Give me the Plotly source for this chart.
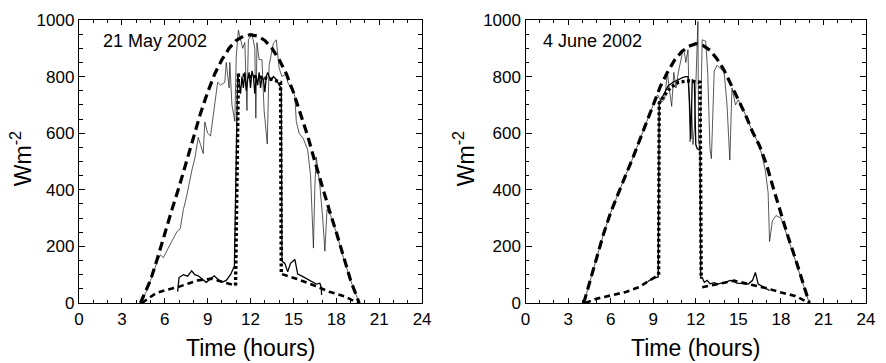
import plotly.graph_objects as go

# ---------------- 21 May 2002 (left panel) ----------------
left_clear_t = [4.3, 5.0, 5.5, 6.0, 6.5, 7.0, 7.5, 8.0, 8.5, 9.0, 9.5, 10.0, 10.5, 11.0, 11.5, 12.0,
                12.5, 13.0, 13.5, 14.0, 14.5, 15.0, 15.5, 16.0, 16.5, 17.0, 17.5, 18.0, 18.5, 19.0, 19.6]
left_clear_v = [0, 80, 160, 250, 330, 410, 500, 590, 670, 745, 810, 860, 900, 928, 943, 948,
                943, 928, 900, 860, 810, 745, 670, 590, 500, 410, 330, 250, 160, 80, 0]

left_global_t = [4.3, 4.7, 5.0, 5.5, 5.7, 5.9, 6.2, 6.5, 6.85, 7.08, 7.3, 7.5, 7.66, 7.9, 8.1, 8.34,
                 8.5, 8.69, 8.8, 9.0, 9.2, 9.5, 9.7, 9.9, 10.2, 10.3, 10.4, 10.5, 10.55, 10.7, 10.9,
                 11.0, 11.15, 11.3, 11.45, 11.6, 11.75, 11.85, 11.97, 12.1, 12.3, 12.37, 12.45, 12.6,
                 12.8, 12.95, 13.17, 13.3, 13.6, 13.8, 14.0, 14.2, 14.5, 14.6, 14.8, 15.0, 15.1, 15.2,
                 15.4, 15.7, 16.0, 16.2, 16.4, 16.5, 16.6, 16.85, 17.05, 17.2, 17.35, 17.6, 18.0,
                 18.5, 19.0, 19.6]
left_global_v = [0, 40, 80, 150, 170, 160, 190, 220, 252, 262, 330, 370, 413, 470, 510, 585,
                 560, 528, 640, 600, 590, 700, 780, 770, 780, 850, 810, 760, 850, 700, 642,
                 872, 964, 930, 900, 920, 680, 930, 940, 950, 900, 653, 920, 860,
                 860, 680, 562, 840, 918, 930, 830, 800, 810, 780, 760, 746, 730, 642,
                 600, 580, 540, 450, 194, 414, 516, 414, 300, 183, 330, 310, 250,
                 160, 80, 0]

left_meas_t = [6.9, 7.0, 7.3, 7.6, 7.88, 8.1, 8.34, 8.6, 8.9, 9.2, 9.46, 9.7, 10.0, 10.3, 10.6, 10.87,
               11.1, 11.2, 11.3, 11.4, 11.5, 11.6, 11.7, 11.8, 11.9, 12.0, 12.1, 12.2, 12.3, 12.4,
               12.5, 12.6, 12.7, 12.8, 12.9, 13.0, 13.1, 13.2, 13.4, 13.6, 13.8, 14.0, 14.15,
               14.2, 14.4, 14.6, 14.8, 15.1, 15.3, 15.6, 15.9, 16.2, 16.6, 16.85, 16.95, 16.97]
left_meas_v = [40, 90, 100, 95, 114, 100, 96, 85, 73, 85, 96, 85, 73, 80, 100, 131,
               805, 780, 740, 800, 760, 815, 750, 790, 815, 760, 820, 800, 740, 800,
               770, 815, 760, 800, 790, 745, 800, 815, 785, 800, 790, 770, 760,
               148, 140, 110, 140, 154, 102, 95, 86, 80, 67, 70, 55, 28]

left_model_t = [10.95, 11.15, 11.5, 12.0, 12.5, 13.0, 13.5, 14.1, 14.15]
left_model_v = [62, 805, 805, 800, 800, 795, 790, 780, 102]

left_diffuse_t = [4.4, 5.36, 6.0, 6.97, 7.6, 8.34, 9.26, 10.18, 10.98, None,
                  14.2, 15.2, 16.4, 17.5, 18.6, 19.5]
left_diffuse_v = [0, 34, 45, 57, 68, 80, 86, 73, 61, None,
                  102, 86, 63, 40, 23, 0]

# ---------------- 4 June 2002 (right panel) ----------------
right_clear_t = [4.1, 4.5, 5.0, 5.5, 6.0, 6.5, 7.0, 7.5, 8.0, 8.5, 9.0, 9.5, 10.0, 10.5, 11.0, 11.5,
                 12.0, 12.5, 13.0, 13.5, 14.0, 14.5, 15.0, 15.5, 16.0, 16.5, 17.0, 17.5, 18.0, 18.5,
                 19.0, 19.5, 20.0]
right_clear_v = [0, 70, 160, 245, 320, 385, 445, 505, 570, 640, 705, 765, 815, 858, 888, 907,
                 916, 910, 893, 862, 822, 772, 718, 665, 605, 555, 487, 400, 315, 235,
                 160, 80, 0]

right_global_t = [4.1, 4.5, 5.0, 5.5, 6.0, 6.5, 7.0, 7.5, 8.0, 8.5, 9.0, 9.3, 9.6, 9.8, 10.0, 10.1,
                  10.3, 10.45, 10.6, 10.77, 10.9, 11.1, 11.2, 11.3, 11.45, 11.55, 11.6, 11.7, 11.8,
                  11.9, 12.0, 12.15, 12.2, 12.3, 12.45, 12.7, 12.84, 13.0, 13.1, 13.3, 13.5, 14.0,
                  14.2, 14.4, 14.55, 14.8, 15.0, 15.5, 16.0, 16.5, 16.9, 17.1, 17.2, 17.4, 17.65,
                  18.0, 18.5, 19.0, 19.5, 20.0]
right_global_v = [0, 70, 160, 245, 320, 385, 445, 505, 570, 640, 700, 735, 710, 720, 815, 770,
                  695, 815, 760, 815, 845, 895, 885, 850, 895, 730, 570, 700, 560,
                  615, 760, 995, 570, 540, 930, 925, 815, 545, 510, 820, 840, 815,
                  700, 505, 760, 700, 718, 665, 605, 555, 470, 390, 217, 290, 309,
                  300, 230, 155, 75, 0]

right_meas_t = [8.6, 8.9, 9.2, 9.35, 9.42, 9.7, 10.07, 10.4, 10.77, 11.1, 11.3, 11.45, 11.55, 11.65,
                11.75, 11.9, 12.0, 12.1, 12.3, 12.35, 12.45, 12.6, 12.8, 13.0, 13.3, 13.55, 13.8,
                14.1, 14.4, 14.6, 14.9, 15.3, 15.7, 16.0, 16.2, 16.4, 16.8, 17.2]
right_meas_v = [75, 85, 90, 92, 706, 735, 769, 780, 790, 797, 800, 800, 720, 580,
                790, 780, 560, 545, 540, 90, 90, 73, 80, 68, 72, 67, 70,
                72, 80, 78, 70, 68, 67, 80, 108, 67, 55, 44]

right_model_t = [9.38, 9.42, 9.8, 10.2, 10.77, 11.5, 12.3, 12.38]
right_model_v = [100, 706, 735, 760, 780, 785, 780, 86]

right_diffuse_t = [4.2, 5.0, 6.04, 7.07, 7.99, 8.92, 9.4, None,
                   12.45, 13.55, 14.7, 15.7, 17.0, 18.1, 19.0, 20.0]
right_diffuse_v = [0, 15, 27, 39, 56, 85, 100, None,
                   56, 67, 79, 67, 52, 36, 25, 0]

x_ticks = [0, 3, 6, 9, 12, 15, 18, 21, 24]
y_ticks = [0, 200, 400, 600, 800, 1000]
panel_labels = ["21 May 2002", "4 June 2002"]

FONT = "Liberation Sans, Arial, Helvetica, sans-serif"

fig = go.Figure()

def add_panel(xa, ya, gt, gv, ct, cv, dt, dv, mt, mv, ot, ov):
    common = dict(xaxis=xa, yaxis=ya, mode="lines", showlegend=False, hoverinfo="skip")
    fig.add_trace(go.Scatter(x=gt, y=gv, line=dict(color="#111111", width=0.7), **common))
    fig.add_trace(go.Scatter(x=ct, y=cv, line=dict(color="black", width=3.2, dash="9px,5px"), **common))
    fig.add_trace(go.Scatter(x=dt, y=dv, line=dict(color="black", width=2.6, dash="6px,4px"),
                             connectgaps=False, **common))
    fig.add_trace(go.Scatter(x=mt, y=mv, line=dict(color="black", width=1.3), **common))
    fig.add_trace(go.Scatter(x=ot, y=ov, line=dict(color="black", width=3.4, dash="3px,2.5px"), **common))

add_panel("x", "y", left_global_t, left_global_v, left_clear_t, left_clear_v,
          left_diffuse_t, left_diffuse_v, left_meas_t, left_meas_v, left_model_t, left_model_v)
add_panel("x2", "y2", right_global_t, right_global_v, right_clear_t, right_clear_v,
          right_diffuse_t, right_diffuse_v, right_meas_t, right_meas_v, right_model_t, right_model_v)

W, H = 886, 363
L, R, T, B = 79, 11, 13, 60
pw = W - L - R
ph = H - T - B

def xp(px):
    return (px - L) / pw

def yp(py):
    return (H - B - py) / ph

xaxis_style = dict(range=[0, 24], tickvals=x_ticks, ticks="inside", ticklen=5, tickwidth=1.2,
                   tickcolor="black", showline=True, linecolor="black", linewidth=1.4,
                   mirror="ticks", showgrid=False, zeroline=False,
                   tickfont=dict(family=FONT, size=17, color="black"),
                   minor=dict(dtick=1, tick0=0, ticks="inside", ticklen=3, tickwidth=1.2,
                              tickcolor="black", showgrid=False))
yaxis_style = dict(range=[0, 1000], tickvals=y_ticks, ticks="inside", ticklen=6, tickwidth=1.2,
                   tickcolor="black", showline=True, linecolor="black", linewidth=1.4,
                   mirror="ticks", showgrid=False, zeroline=False,
                   tickfont=dict(family=FONT, size=17, color="black"),
                   minor=dict(dtick=50, tick0=0, ticks="inside", ticklen=3.5, tickwidth=1.2,
                              tickcolor="black", showgrid=False))

fig.update_layout(
    width=W, height=H,
    margin=dict(l=L, r=R, t=T, b=B),
    paper_bgcolor="white", plot_bgcolor="white",
    font=dict(family=FONT, color="black"),
    xaxis=dict(domain=[0, xp(426)], anchor="y", **xaxis_style),
    yaxis=dict(domain=[0, 1], anchor="x", **yaxis_style),
    xaxis2=dict(domain=[xp(530.7), 1], anchor="y2", **xaxis_style),
    yaxis2=dict(domain=[0, 1], anchor="x2", **yaxis_style),
)

annotations = [
    dict(text=panel_labels[0], x=xp(101), y=yp(35), xanchor="left", yanchor="middle",
         font=dict(size=18)),
    dict(text=panel_labels[1], x=xp(546), y=yp(35), xanchor="left", yanchor="middle",
         font=dict(size=18)),
    dict(text="Time (hours)", x=xp(253), y=yp(349), xanchor="center", yanchor="middle",
         font=dict(size=23)),
    dict(text="Time (hours)", x=xp(703), y=yp(349), xanchor="center", yanchor="middle",
         font=dict(size=23)),
    dict(text="Wm<sup>-2</sup>", x=xp(20), y=yp(155), xanchor="center", yanchor="middle",
         textangle=-90, font=dict(size=23)),
    dict(text="Wm<sup>-2</sup>", x=xp(468), y=yp(155), xanchor="center", yanchor="middle",
         textangle=-90, font=dict(size=23)),
]
for a in annotations:
    a.update(xref="paper", yref="paper", showarrow=False)
fig.update_layout(annotations=annotations)

fig.write_html("out.html")
